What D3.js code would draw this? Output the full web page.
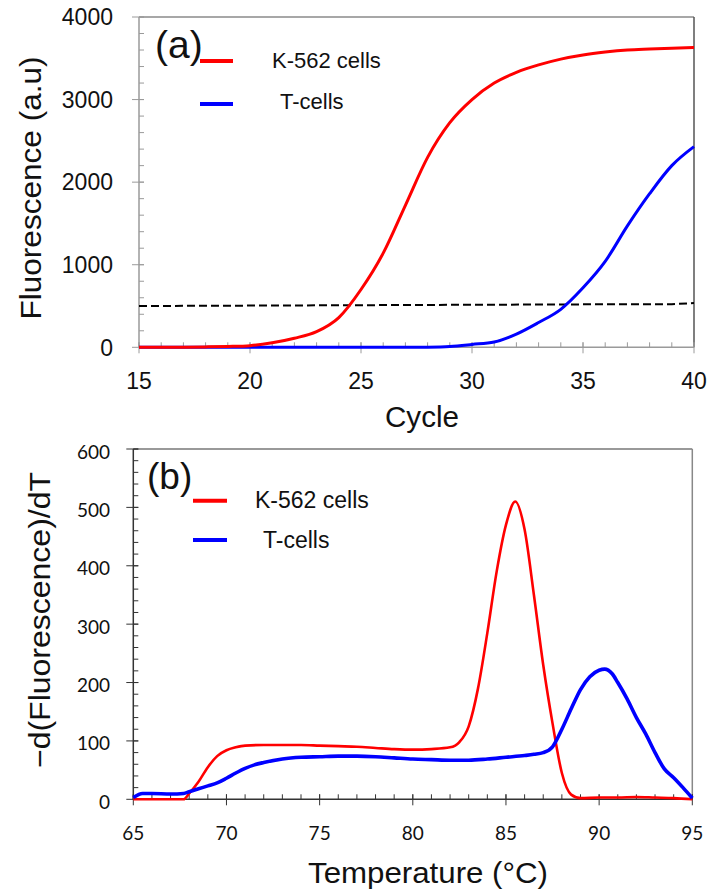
<!DOCTYPE html>
<html>
<head>
<meta charset="utf-8">
<script src="https://cdn.jsdelivr.net/npm/d3@7/dist/d3.min.js"></script>
<style>
  html, body { margin: 0; padding: 0; background: #fff; }
  svg { display: block; }
  text { font-family: "Liberation Sans", Arial, sans-serif; fill: #111; }
  .tb text { font-family: Lato, "Open Sans", sans-serif; }
</style>
</head>
<body>
<svg id="fig" width="709" height="891"></svg>
<script>
// ---------- (a) amplification curves ----------
const cycles = [15,16,17,18,19,20,21,22,23,24,25,26,27,28,29,30,31,32,33,34,35,36,37,38,39,40];
const ampK562 = [0,0,2,5,10,20,55,110,190,360,700,1140,1720,2300,2720,3000,3200,3330,3420,3490,3540,3575,3600,3612,3622,3630];
const ampTcells = [0,0,0,0,0,0,0,0,0,0,0,0,0,2,10,35,65,160,300,460,720,1040,1470,1860,2200,2430];
const thrCycles = [15,20,25,30,35,39,40];
const thrValues = [500,505,510,515,520,522,535];
const ampYTicks = [0,1000,2000,3000,4000];
const ampXTicks = [15,20,25,30,35,40];

// ---------- (b) melt curves ----------
const tempK562 = [65,66,67,67.7,68,68.5,69,69.5,70,70.5,71,72,73,74,75,76,77,78,79,80,81,82,82.5,83,83.5,84,84.5,85,85.5,86,86.5,87,87.5,88,88.5,89,90,91,92,93,94,95];
const meltK562 = [0,0,0,0,10,30,55,74,84,89,92,93,93,93,92,91,90,88,86,85,86,89,98,125,190,285,390,470,510,462,350,230,130,45,8,2,3,3,4,3,2,0];
const tempTcells = [65,65.5,66,67,67.7,68,68.5,69,69.5,70,70.5,71,71.5,72,73,74,75,76,77,78,79,80,81,82,83,84,85,86,86.5,87,87.5,88,88.5,89,89.5,90,90.3,90.7,91,91.5,92,92.5,93,93.5,94,94.5,95];
const meltTcells = [3,10,10,9,10,13,18,23,28,36,45,53,59,63,69,72,73,74,74,73,71,69,68,67,67,69,72,75,77,80,90,120,155,188,210,221,223,215,200,172,140,112,80,52,37,20,2];
const meltYTicks = [0,100,200,300,400,500,600];
const meltXTicks = [65,70,75,80,85,90,95];

const seriesNames = ["K-562 cells", "T-cells"];
const seriesColors = ["#ff0000", "#0000ff"];

const svg = d3.select("#fig");

function zipXY(xs, ys) { return xs.map((x, i) => [x, ys[i]]); }

// draws one panel: frame, ticks, labels and axis titles
function panel(cfg) {
  const g = svg.append("g").attr("class", cfg.cls);
  const x = d3.scaleLinear().domain(cfg.xDomain).range([cfg.left, cfg.right]);
  const y = d3.scaleLinear().domain(cfg.yDomain).range([cfg.bottom, cfg.top]);

  // top and right frame
  g.append("line").attr("x1", cfg.left).attr("x2", cfg.right).attr("y1", cfg.top).attr("y2", cfg.top)
    .attr("stroke", cfg.frameTop).attr("stroke-width", 1.5);
  g.append("line").attr("x1", cfg.right).attr("x2", cfg.right).attr("y1", cfg.top).attr("y2", cfg.bottom)
    .attr("stroke", cfg.frameRight).attr("stroke-width", 1.5);

  // minor ticks point inward, major ticks cross the axis
  const xMinor = d3.range(cfg.xDomain[0], cfg.xDomain[1] + 0.001, cfg.xMinorStep);
  const yMinor = d3.range(cfg.yDomain[0], cfg.yDomain[1] + 0.001, cfg.yMinorStep);
  g.selectAll(".xm").data(xMinor).join("line")
    .attr("x1", d => x(d)).attr("x2", d => x(d)).attr("y1", cfg.bottom).attr("y2", cfg.bottom - 5)
    .attr("stroke", cfg.axisColor).attr("stroke-width", 1);
  g.selectAll(".ym").data(yMinor).join("line")
    .attr("x1", cfg.left).attr("x2", cfg.left + 5).attr("y1", d => y(d)).attr("y2", d => y(d))
    .attr("stroke", cfg.axisColor).attr("stroke-width", 1);
  g.selectAll(".xM").data(cfg.xTicks).join("line")
    .attr("x1", d => x(d)).attr("x2", d => x(d)).attr("y1", cfg.bottom - 5).attr("y2", cfg.bottom + 6)
    .attr("stroke", cfg.axisColor).attr("stroke-width", 1);
  g.selectAll(".yM").data(cfg.yTicks).join("line")
    .attr("x1", cfg.left - 7).attr("x2", cfg.left + 5).attr("y1", d => y(d)).attr("y2", d => y(d))
    .attr("stroke", cfg.axisColor).attr("stroke-width", 1);

  // axis lines
  g.append("line").attr("x1", cfg.left).attr("x2", cfg.right).attr("y1", cfg.bottom).attr("y2", cfg.bottom)
    .attr("stroke", cfg.axisColor).attr("stroke-width", 1.5);
  g.append("line").attr("x1", cfg.left).attr("x2", cfg.left).attr("y1", cfg.top).attr("y2", cfg.bottom)
    .attr("stroke", cfg.axisColor).attr("stroke-width", 1.5);

  // tick labels
  g.selectAll(".xl").data(cfg.xTicks).join("text")
    .attr("x", d => x(d)).attr("y", cfg.xLabelY).attr("text-anchor", "middle")
    .attr("font-size", cfg.tickFont).text(d => d);
  g.selectAll(".yl").data(cfg.yTicks).join("text")
    .attr("x", cfg.yLabelX).attr("y", d => y(d)).attr("dy", cfg.yLabelDy).attr("text-anchor", "end")
    .attr("font-size", cfg.tickFont).text(d => d);

  // axis titles
  svg.append("text").attr("x", cfg.xTitle[0]).attr("y", cfg.xTitle[1]).attr("text-anchor", "middle")
    .attr("font-size", cfg.titleFont).attr("textLength", cfg.xTitle[2]).attr("lengthAdjust", "spacingAndGlyphs")
    .text(cfg.xTitleText);
  svg.append("text").attr("transform", `translate(${cfg.yTitle[0]},${cfg.yTitle[1]}) rotate(-90)`)
    .attr("text-anchor", "middle").attr("font-size", cfg.titleFont)
    .attr("textLength", cfg.yTitle[2]).attr("lengthAdjust", "spacingAndGlyphs")
    .text(cfg.yTitleText);

  return { g, x, y };
}

// ---------- panel (a) ----------
const A = panel({
  cls: "ta", left: 139, right: 694, top: 17, bottom: 347.3,
  xDomain: [15, 40], yDomain: [0, 4000], xTicks: ampXTicks, yTicks: ampYTicks,
  xMinorStep: 1, yMinorStep: 200,
  axisColor: "#9a9a9a", frameTop: "#8a8a8a", frameRight: "#555",
  tickFont: 23, xLabelY: 389, yLabelX: 113, yLabelDy: "0.36em",
  titleFont: 30, xTitle: [422, 427, 74], xTitleText: "Cycle",
  yTitle: [41, 188, 263], yTitleText: "Fluorescence (a.u)"
});

const thrLine = d3.line().x(d => A.x(d[0])).y(d => A.y(d[1]));
const lineA = d3.line().x(d => A.x(d[0])).y(d => A.y(d[1])).curve(d3.curveMonotoneX);
A.g.append("path").datum(zipXY(thrCycles, thrValues)).attr("d", thrLine)
  .attr("fill", "none").attr("stroke", "#000").attr("stroke-width", 2).attr("stroke-dasharray", "8,4");
A.g.append("path").datum(zipXY(cycles, ampTcells)).attr("d", lineA)
  .attr("fill", "none").attr("stroke", seriesColors[1]).attr("stroke-width", 3);
A.g.append("path").datum(zipXY(cycles, ampK562)).attr("d", lineA)
  .attr("fill", "none").attr("stroke", seriesColors[0]).attr("stroke-width", 3);

A.g.append("text").attr("x", 155).attr("y", 58).attr("font-size", 39).text("(a)");
[[61, 272, 68], [104, 280, 108.5]].forEach((p, i) => {
  A.g.append("line").attr("x1", 200).attr("x2", 233).attr("y1", p[0]).attr("y2", p[0])
    .attr("stroke", seriesColors[i]).attr("stroke-width", 4);
  A.g.append("text").attr("x", p[1]).attr("y", p[2]).attr("font-size", 22).text(seriesNames[i]);
});

// ---------- panel (b) ----------
const B = panel({
  cls: "tb", left: 133.3, right: 692.3, top: 449, bottom: 799.3,
  xDomain: [65, 95], yDomain: [0, 600], xTicks: meltXTicks, yTicks: meltYTicks,
  xMinorStep: 1, yMinorStep: 20,
  axisColor: "#333", frameTop: "#777", frameRight: "#888",
  tickFont: 19, xLabelY: 840, yLabelX: 110, yLabelDy: "0.5em",
  titleFont: 30, xTitle: [428, 883, 240], xTitleText: "Temperature (\u00B0C)",
  yTitle: [50, 620, 296], yTitleText: "\u2212d(Fluorescence)/dT"
});

const lineB = d3.line().x(d => B.x(d[0])).y(d => B.y(d[1])).curve(d3.curveMonotoneX);
B.g.append("path").datum(zipXY(tempK562, meltK562)).attr("d", lineB)
  .attr("fill", "none").attr("stroke", seriesColors[0]).attr("stroke-width", 2.6);
B.g.append("path").datum(zipXY(tempTcells, meltTcells)).attr("d", lineB)
  .attr("fill", "none").attr("stroke", seriesColors[1]).attr("stroke-width", 3.6);

svg.append("text").attr("x", 147).attr("y", 489).attr("font-size", 37).text("(b)");
[[500.7, 255, 508], [540, 263, 548]].forEach((p, i) => {
  svg.append("line").attr("x1", 193).attr("x2", 227).attr("y1", p[0]).attr("y2", p[0])
    .attr("stroke", seriesColors[i]).attr("stroke-width", 4);
  svg.append("text").attr("x", p[1]).attr("y", p[2]).attr("font-size", 23).text(seriesNames[i]);
});
</script>
</body>
</html>
